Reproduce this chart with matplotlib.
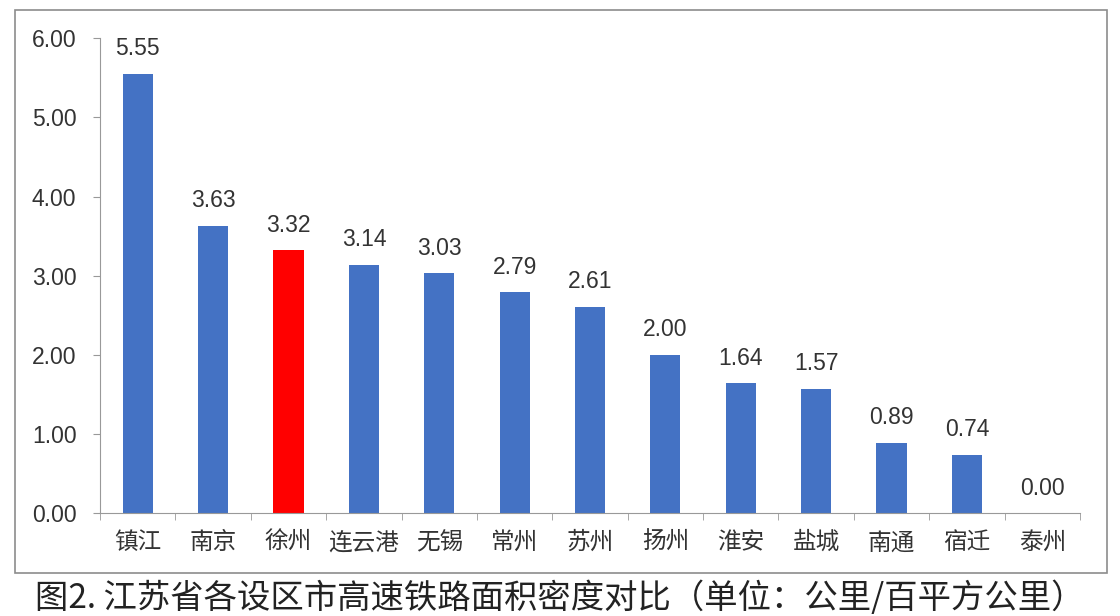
import matplotlib.pyplot as plt
from matplotlib.patches import Rectangle

plt.rcParams['font.family'] = ['Noto Sans CJK SC', 'DejaVu Sans']

cities = ['镇江', '南京', '徐州', '连云港', '无锡', '常州', '苏州',
          '扬州', '淮安', '盐城', '南通', '宿迁', '泰州']
density = [5.55, 3.63, 3.32, 3.14, 3.03, 2.79, 2.61,
           2.00, 1.64, 1.57, 0.89, 0.74, 0.00]
highlight = '徐州'
yticks = [0, 1, 2, 3, 4, 5, 6]

blue = '#4472C4'
red = '#FF0000'
txt = '#333333'
num_font = ['Liberation Sans', 'DejaVu Sans']

fig = plt.figure(figsize=(11.2, 6.16), dpi=100)
ax = fig.add_axes([0.0893, 0.167, 0.875, 0.771])

colors = [red if c == highlight else blue for c in cities]
x = range(len(cities))
bars = ax.bar(x, density, width=0.4, color=colors, zorder=2)

for xi, v in zip(x, density):
    ax.text(xi, v + 0.17, f'{v:.2f}', ha='center', va='bottom',
            fontsize=16.5, color=txt, family=num_font)

ax.set_xlim(-0.5, len(cities) - 0.5)
ax.set_ylim(0, 6)
ax.set_yticks(yticks)
ax.set_yticklabels([f'{t:.2f}' for t in yticks], fontsize=16.5, color=txt,
                   family=num_font)

# category labels, tick marks at the boundaries
ax.set_xticks(list(x))
ax.set_xticklabels(cities, fontsize=17, color=txt)
ax.tick_params(axis='x', length=0, pad=13)
ax.set_xticks([i - 0.5 for i in range(len(cities) + 1)], minor=True)
ax.tick_params(axis='x', which='minor', length=5, color='#999999', direction='out')
ax.tick_params(axis='y', length=5, color='#999999', pad=12)

for s in ['top', 'right']:
    ax.spines[s].set_visible(False)
ax.spines['left'].set_color('#999999')
ax.spines['bottom'].set_color('#999999')

# outer frame
fig.patches.append(Rectangle((0.0134, 0.070), 0.975, 0.914, transform=fig.transFigure,
                             fill=False, edgecolor='#8c8c8c', linewidth=1.2))

fig.text(0.5, 0.028, '图2. 江苏省各设区市高速铁路面积密度对比（单位：公里/百平方公里）',
         ha='center', va='center', fontsize=24, color='#222222')

fig.savefig('out.png', dpi=100)
